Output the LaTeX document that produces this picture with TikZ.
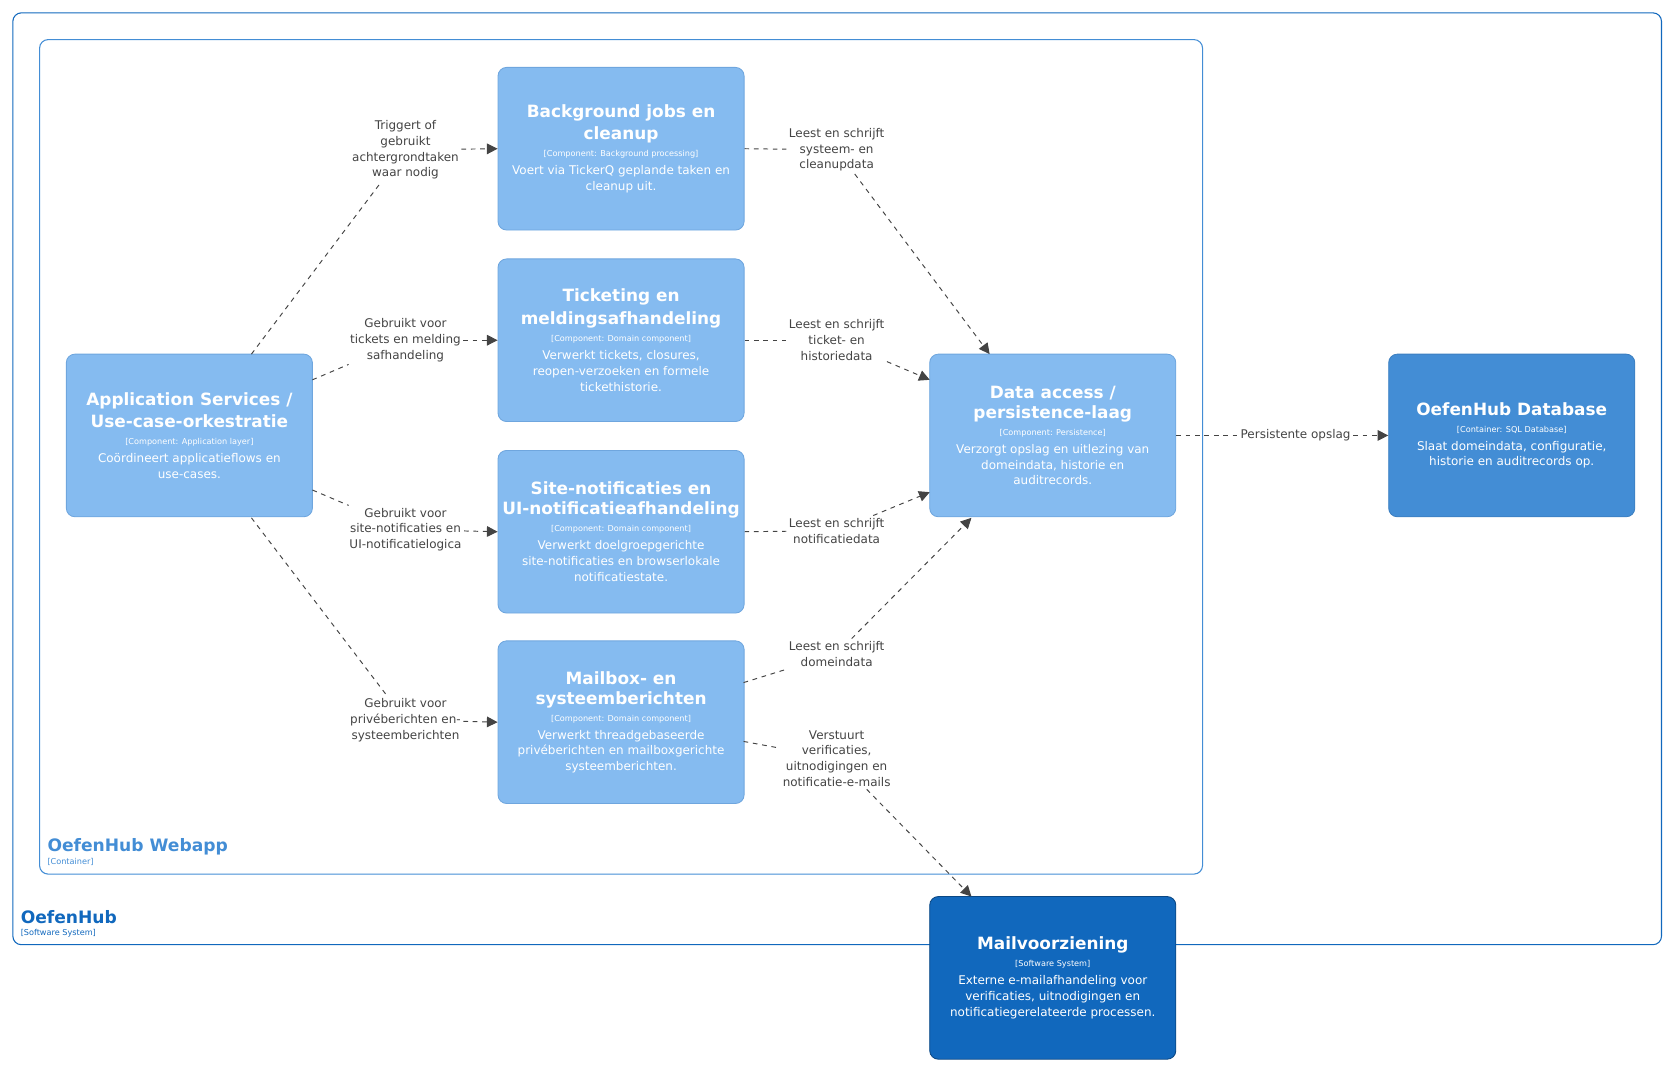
\documentclass[tikz,border=0pt]{standalone}
\usepackage{fontspec}
\setmainfont{DejaVu Sans}
\usetikzlibrary{arrows.meta}
\definecolor{comp}{HTML}{85BBF0}
\definecolor{compb}{HTML}{6FA6DE}
\definecolor{cont}{HTML}{438DD5}
\definecolor{contb}{HTML}{3C7FC0}
\definecolor{ext}{HTML}{1168BD}
\definecolor{extb}{HTML}{0B4884}
\definecolor{txt}{HTML}{444444}
\begin{document}
\begin{tikzpicture}[x=0.5pt,y=-0.5pt,
 box/.style={rounded corners=4pt,draw=#1,line width=0.4pt,minimum width=115pt,minimum height=76pt,inner sep=0pt},
 inb/.style={text=white,align=center,inner sep=0pt,font=\fontsize{5.6}{7.4}\selectfont},
 lbl/.style={font=\fontsize{5.6}{7.4}\selectfont,text=txt,align=center,inner sep=1pt,fill=white},
 rel/.style={draw=txt,dash pattern=on 2.2pt off 2.2pt,line width=0.45pt},
 arr/.style={rel,-{Triangle[length=5pt,width=5pt]}}]
\useasboundingbox (0,0) rectangle (1560,998);
\newcommand{\tl}{\fontsize{7.9}{10}\selectfont\bfseries}
\newcommand{\tg}{\fontsize{3.8}{5}\selectfont}
\newcommand{\ds}{\fontsize{5.6}{7.4}\selectfont}
% boundaries
\draw[ext,line width=0.5pt,rounded corners=4pt] (12,12) rectangle (1553,883);
\node[anchor=west,text=ext,font=\bfseries\fontsize{8}{10}\selectfont,inner sep=0] (sysl) at (19,857) {OefenHub};
\node[anchor=west,text=ext,font=\fontsize{3.8}{5}\selectfont,inner sep=0] (syst) at (19,872) {[Software System]};
\draw[cont,line width=0.5pt,rounded corners=4pt] (37,37) rectangle (1124,817);
\node[anchor=west,text=cont,font=\bfseries\fontsize{8}{10}\selectfont,inner sep=0] (webl) at (44,791) {OefenHub Webapp};
\node[anchor=west,text=cont,font=\fontsize{3.8}{5}\selectfont,inner sep=0] (webt) at (44,806) {[Container]};
% boxes
\node[box=compb,fill=comp] (app) at (177,407) {};
\node[box=compb,fill=comp] (bg) at (580.5,139) {};
\node[box=compb,fill=comp] (tk) at (580.5,318) {};
\node[box=compb,fill=comp] (site) at (580.5,497) {};
\node[box=compb,fill=comp] (mb) at (580.5,675) {};
\node[box=compb,fill=comp] (data) at (984,407) {};
\node[box=contb,fill=cont] (db) at (1413,407) {};
\node[box=extb,fill=ext] (mail) at (984,914) {};
% box texts
\node[inb] (appt) at (app) {{\tl Application Services /}\\[2pt]{\tl Use-case-orkestratie}\\[0.5pt]{\tg [Component: Application layer]}\\[1pt]{\ds Coördineert applicatieflows en}\\{\ds use-cases.}};
\node[inb] (bgt) at (bg) {{\tl Background jobs en}\\[2pt]{\tl cleanup}\\[0.5pt]{\tg [Component: Background processing]}\\[1pt]{\ds Voert via TickerQ geplande taken en}\\{\ds cleanup uit.}};
\node[inb] (tkt) at (tk) {{\tl Ticketing en}\\[2pt]{\tl meldingsafhandeling}\\[0.5pt]{\tg [Component: Domain component]}\\[1pt]{\ds Verwerkt tickets, closures,}\\{\ds reopen-verzoeken en formele}\\{\ds tickethistorie.}};
\node[inb] (sitet) at (site) {{\tl Site-notificaties en}\\[2pt]{\tl UI-notificatieafhandeling}\\[0.5pt]{\tg [Component: Domain component]}\\[1pt]{\ds Verwerkt doelgroepgerichte}\\{\ds site-notificaties en browserlokale}\\{\ds notificatiestate.}};
\node[inb] (mbt) at (mb) {{\tl Mailbox- en}\\[2pt]{\tl systeemberichten}\\[0.5pt]{\tg [Component: Domain component]}\\[1pt]{\ds Verwerkt threadgebaseerde}\\{\ds privéberichten en mailboxgerichte}\\{\ds systeemberichten.}};
\node[inb] (datat) at (data) {{\tl Data access /}\\[2pt]{\tl persistence-laag}\\[0.5pt]{\tg [Component: Persistence]}\\[1pt]{\ds Verzorgt opslag en uitlezing van}\\{\ds domeindata, historie en}\\{\ds auditrecords.}};
\node[inb] (dbt) at (db) {{\tl OefenHub Database}\\[0.5pt]{\tg [Container: SQL Database]}\\[1pt]{\ds Slaat domeindata, configuratie,}\\{\ds historie en auditrecords op.}};
\node[inb] (mailt) at (mail) {{\tl Mailvoorziening}\\[0.5pt]{\tg [Software System]}\\[1pt]{\ds Externe e-mailafhandeling voor}\\{\ds verificaties, uitnodigingen en}\\{\ds notificatiegerelateerde processen.}};
% coordinates
\coordinate (a1) at (235,331); \coordinate (a2) at (292,355);
\coordinate (a3) at (292,458); \coordinate (a4) at (235,484);
\coordinate (d1) at (925,331); \coordinate (d2) at (869,355);
\coordinate (d3) at (869,460); \coordinate (d4) at (908,484);
\coordinate (m1) at (695,638); \coordinate (m2) at (695,693);
\coordinate (e5) at (908,838);
% labels
\node[lbl] (l1) at (379,140) {Triggert of\\gebruikt\\achtergrondtaken\\waar nodig};
\node[lbl] (l2) at (379,318) {Gebruikt voor\\tickets en melding\\safhandeling};
\node[lbl] (l3) at (379,495) {Gebruikt voor\\site-notificaties en\\UI-notificatielogica};
\node[lbl] (l4) at (379,673) {Gebruikt voor\\privéberichten en-\\systeemberichten};
\node[lbl] (r1) at (782,140) {Leest en schrijft\\systeem- en\\cleanupdata};
\node[lbl] (r2) at (782,318) {Leest en schrijft\\ticket- en\\historiedata};
\node[lbl] (r3) at (782,496) {Leest en schrijft\\notificatiedata};
\node[lbl] (r4) at (782,611) {Leest en schrijft\\domeindata};
\node[lbl] (r5) at (782,709) {Verstuurt\\verificaties,\\uitnodigingen en\\notificatie-e-mails};
\node[lbl] (p) at (1211,407) {Persistente opslag};
% edges
\draw[rel] (a1) -- (l1); \draw[arr] (l1) -- (bg.west);
\draw[rel] (a2) -- (l2); \draw[arr] (l2) -- (tk.west);
\draw[rel] (a3) -- (l3); \draw[arr] (l3) -- (site.west);
\draw[rel] (a4) -- (l4); \draw[arr] (l4) -- (mb.west);
\draw[rel] (bg.east) -- (r1); \draw[arr] (r1) -- (d1);
\draw[rel] (tk.east) -- (r2); \draw[arr] (r2) -- (d2);
\draw[rel] (site.east) -- (r3); \draw[arr] (r3) -- (d3);
\draw[rel] (m1) -- (r4); \draw[arr] (r4) -- (d4);
\draw[rel] (m2) -- (r5); \draw[arr] (r5) -- (e5);
\draw[rel] (data.east) -- (p); \draw[arr] (p) -- (db.west);
\end{tikzpicture}
\end{document}
